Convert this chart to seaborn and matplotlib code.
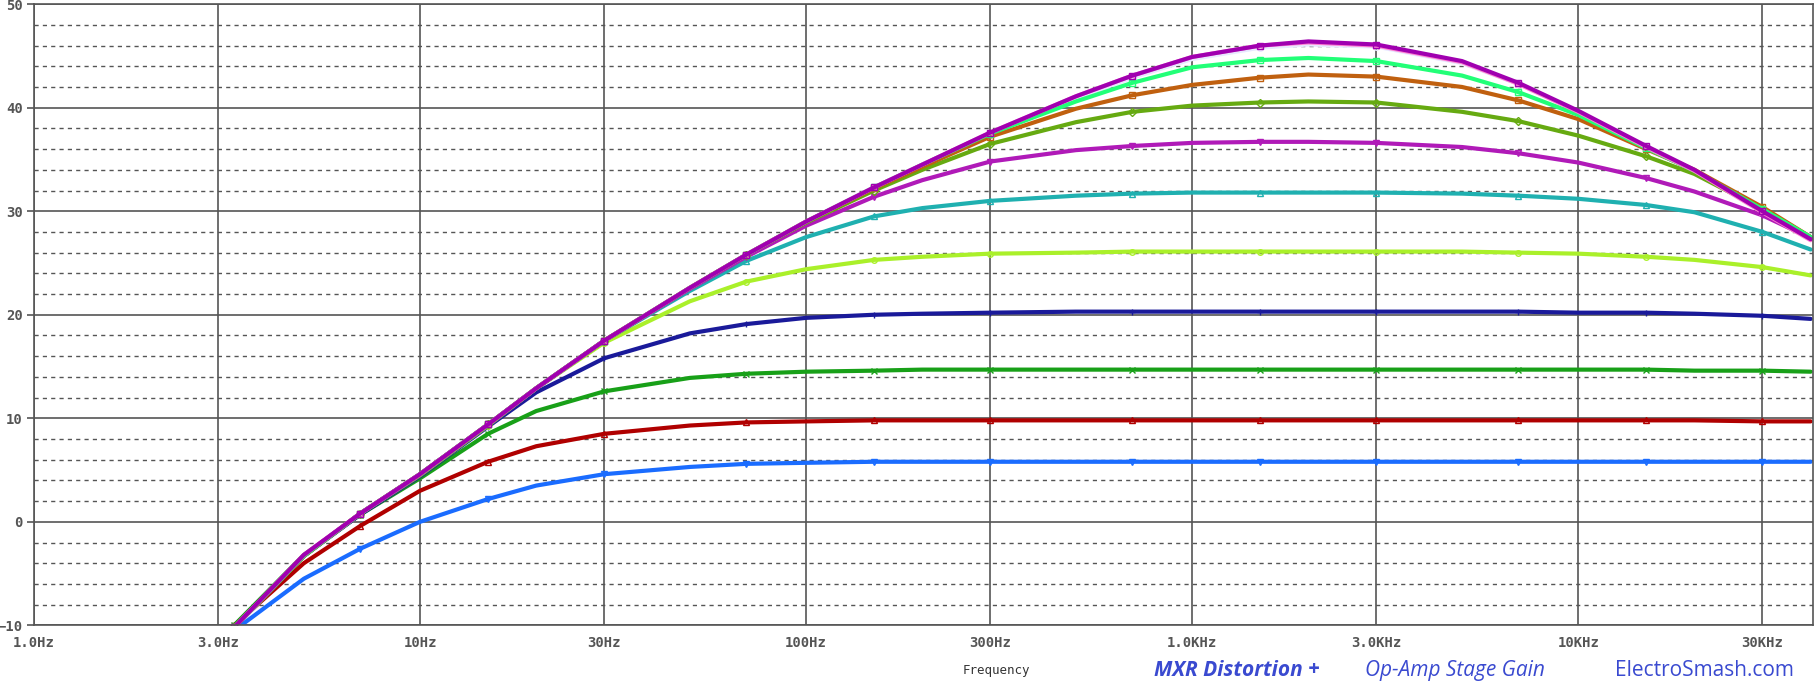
import matplotlib
matplotlib.use("Agg")
import matplotlib.pyplot as plt
import seaborn as sns
import pandas as pd
from matplotlib.ticker import FixedLocator, MultipleLocator

# frequency grid (Hz)
freq = [3.3, 5, 7, 10, 15, 20, 30, 50, 70, 100, 150, 200, 300, 500, 700,
        1e3, 1.5e3, 2e3, 3e3, 5e3, 7e3, 10e3, 15e3, 20e3, 30e3, 40e3]

# gain curves (dB)
g_blue = [-10.5, -5.5, -2.6, 0.0, 2.2, 3.5, 4.6, 5.3, 5.6, 5.7, 5.8, 5.8, 5.8, 5.8, 5.8,
          5.8, 5.8, 5.8, 5.8, 5.8, 5.8, 5.8, 5.8, 5.8, 5.8, 5.8]
g_red = [-10.0, -4.0, -0.4, 3.0, 5.8, 7.3, 8.5, 9.3, 9.6, 9.7, 9.8, 9.8, 9.8, 9.8, 9.8,
         9.8, 9.8, 9.8, 9.8, 9.8, 9.8, 9.8, 9.8, 9.8, 9.7, 9.7]
g_green = [-10.0, -3.2, 0.7, 4.2, 8.5, 10.7, 12.6, 13.9, 14.3, 14.5, 14.6, 14.7, 14.7, 14.7, 14.7,
           14.7, 14.7, 14.7, 14.7, 14.7, 14.7, 14.7, 14.7, 14.6, 14.6, 14.5]
g_navy = [-10.2, -3.3, 0.7, 4.4, 9.2, 12.5, 15.8, 18.2, 19.1, 19.7, 20.0, 20.1, 20.2, 20.3, 20.3,
          20.3, 20.3, 20.3, 20.3, 20.3, 20.3, 20.2, 20.2, 20.1, 19.9, 19.6]
g_yellow = [-10.2, -3.3, 0.8, 4.5, 9.3, 12.9, 17.3, 21.3, 23.2, 24.4, 25.3, 25.6, 25.9, 26.0, 26.1,
            26.1, 26.1, 26.1, 26.1, 26.1, 26.0, 25.9, 25.6, 25.3, 24.6, 23.8]
g_teal = [-10.2, -3.3, 0.8, 4.6, 9.4, 12.9, 17.5, 22.3, 25.2, 27.5, 29.5, 30.3, 31.0, 31.5, 31.7,
          31.8, 31.8, 31.8, 31.8, 31.7, 31.5, 31.2, 30.6, 29.9, 28.0, 26.3]
g_magenta = [-10.2, -3.3, 0.8, 4.6, 9.4, 12.9, 17.5, 22.5, 25.6, 28.6, 31.4, 33.0, 34.8, 35.9, 36.3,
             36.6, 36.7, 36.7, 36.6, 36.2, 35.6, 34.7, 33.2, 31.9, 29.6, 27.4]
g_olive = [-10.2, -3.3, 0.8, 4.6, 9.4, 12.9, 17.5, 22.6, 25.8, 28.9, 32.0, 34.0, 36.5, 38.6, 39.6,
           40.2, 40.5, 40.6, 40.5, 39.6, 38.7, 37.3, 35.3, 33.6, 30.2, 27.5]
g_brown = [-10.2, -3.3, 0.8, 4.6, 9.4, 12.9, 17.5, 22.6, 25.8, 29.0, 32.2, 34.3, 37.2, 39.9, 41.2,
           42.2, 42.9, 43.2, 43.0, 42.0, 40.7, 38.9, 36.0, 34.0, 30.4, 27.5]
g_spring = [-10.2, -3.3, 0.8, 4.6, 9.4, 12.9, 17.5, 22.6, 25.8, 29.0, 32.3, 34.5, 37.5, 40.6, 42.4,
            43.9, 44.6, 44.8, 44.5, 43.1, 41.5, 39.3, 36.1, 33.9, 30.2, 27.5]
g_purple = [-10.2, -3.2, 0.8, 4.6, 9.4, 12.9, 17.5, 22.6, 25.8, 29.0, 32.3, 34.5, 37.6, 41.1, 43.1,
            44.9, 46.0, 46.4, 46.1, 44.5, 42.4, 39.7, 36.3, 34.0, 30.0, 27.3]
g_white = [-10.3, -3.3, 0.7, 4.5, 9.3, 12.8, 17.4, 22.5, 25.7, 28.9, 32.2, 34.4, 37.4, 40.9, 42.9,
           44.7, 45.8, 46.1, 45.9, 44.3, 42.3, 39.6, 36.2, 33.9, 29.9, 27.2]
g_pink = [-10.2, -3.2, 0.8, 4.6, 9.4, 12.9, 17.5, 22.6, 25.8, 29.0, 32.3, 34.5, 37.6, 41.1, 43.1,
          44.9, 46.0, 46.3, 46.0, 44.4, 42.3, 39.6, 36.2, 33.9, 29.9, 27.2]

curves = [
    ("g_white", g_white, "#e8e8ff", "o"),
    ("g_blue", g_blue, "#1a6cff", "v"),
    ("g_red", g_red, "#b00000", "^"),
    ("g_green", g_green, "#18a018", "x"),
    ("g_navy", g_navy, "#1a1a9a", "+"),
    ("g_yellow", g_yellow, "#aaf02a", "o"),
    ("g_teal", g_teal, "#1fb0b0", "^"),
    ("g_magenta", g_magenta, "#b01ab8", "v"),
    ("g_olive", g_olive, "#66aa11", "D"),
    ("g_brown", g_brown, "#c0600f", "s"),
    ("g_spring", g_spring, "#22ff77", "s"),
    ("g_pink", g_pink, "#ff7fd0", "x"),
    ("g_purple", g_purple, "#a000b0", "s"),
]

sns.set_style("white")
plt.rcParams['font.family'] = ['DejaVu Sans Mono']

fig = plt.figure(figsize=(18.15, 6.91), dpi=100)
ax = fig.add_axes([0.0187, 0.095, 0.9803, 0.899])

for name, vals, color, mk in curves:
    df = pd.DataFrame({"f": freq, "g": vals})
    sns.lineplot(data=df, x="f", y="g", ax=ax, color=color, lw=3,
                 marker=mk, markersize=4, markevery=2, mfc="none", mew=1.0,
                 markeredgecolor=color)

ax.set_xscale("log")
ax.set_xlim(1, 40.6e3)
ax.set_ylim(-10, 50)

xt = [1, 3, 10, 30, 100, 300, 1e3, 3e3, 10e3, 30e3]
xl = ["1.0Hz", "3.0Hz", "10Hz", "30Hz", "100Hz", "300Hz", "1.0KHz", "3.0KHz", "10KHz", "30KHz"]
ax.xaxis.set_major_locator(FixedLocator(xt))
ax.xaxis.set_minor_locator(FixedLocator([]))
ax.set_xticklabels(xl)
ax.yaxis.set_major_locator(MultipleLocator(10))
ax.yaxis.set_minor_locator(MultipleLocator(2))

gc = "#555555"
ax.grid(True, which="major", axis="both", color=gc, lw=1.2, ls="-")
ax.grid(True, which="minor", axis="y", color=gc, lw=1.0, ls=(0, (3, 3)))
ax.set_axisbelow(True)
for s in ax.spines.values():
    s.set_color(gc)
    s.set_linewidth(1.2)
ax.tick_params(axis="both", which="major", colors=gc, labelsize=10, length=5, width=1.2,
               direction="out", left=True, bottom=False, pad=3)
ax.tick_params(axis="y", which="minor", length=0)
for t in ax.get_xticklabels() + ax.get_yticklabels():
    t.set_fontweight("bold")
ax.set_xlabel("")
ax.set_ylabel("")

fig.text(0.549, 0.03, "Frequency", fontsize=9, color="#333333", ha="center", va="center")
fig.text(0.636, 0.03, "MXR Distortion +", fontsize=15, color="#3a4ad0", fontweight="bold",
         style="italic", family="Open Sans", ha="left", va="center")
fig.text(0.752, 0.03, "Op-Amp Stage Gain", fontsize=15, color="#3a4ad0",
         style="italic", family="Open Sans", ha="left", va="center")
fig.text(0.890, 0.03, "ElectroSmash.com", fontsize=15, color="#3a4ad0",
         family="Open Sans", ha="left", va="center")

fig.savefig("out.png", dpi=100)
